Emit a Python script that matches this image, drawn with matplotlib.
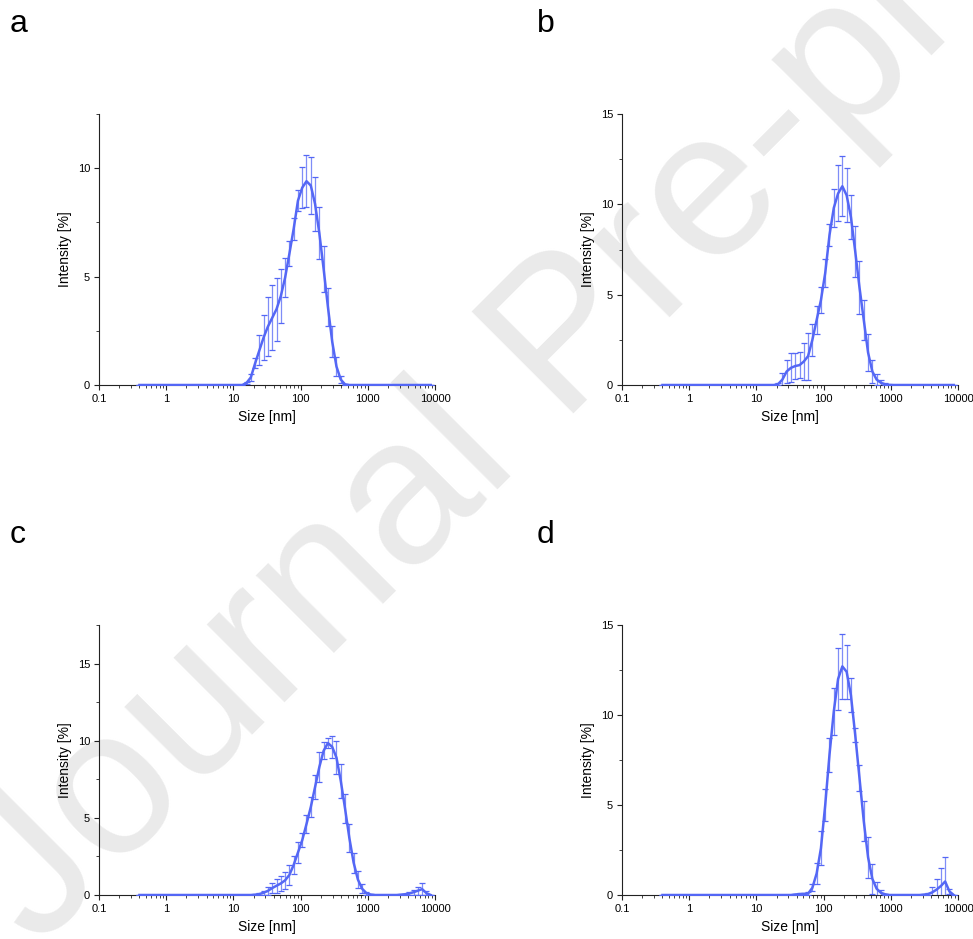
import matplotlib
matplotlib.use("Agg")
import matplotlib.pyplot as plt
from matplotlib.ticker import FixedLocator, LogLocator, MultipleLocator, NullFormatter

plt.rcParams["font.family"] = ["Liberation Sans", "DejaVu Sans"]

# DLS size classes [nm]
sizes = [0.4, 0.4632, 0.5365, 0.6213, 0.7195, 0.8332, 0.9649, 1.117, 1.294, 1.499,
         1.736, 2.01, 2.328, 2.696, 3.122, 3.615, 4.187, 4.849, 5.615, 6.503,
         7.531, 8.721, 10.1, 11.7, 13.54, 15.69, 18.17, 21.04, 24.36, 28.21,
         32.67, 37.84, 43.82, 50.75, 58.77, 68.06, 78.82, 91.28, 105.7, 122.4,
         141.8, 164.2, 190.1, 220.2, 255.0, 295.3, 342.0, 396.1, 458.7, 531.2,
         615.1, 712.4, 825.0, 955.4, 1106, 1281, 1484, 1718, 1990, 2305,
         2669, 3091, 3580, 4145, 4801, 5560, 6439, 7456, 8635]

# intensity [%] and standard deviation per panel
int_a = [0.0] * 25 + [0.1, 0.35, 1.0, 1.6, 2.2, 2.7, 3.1, 3.5, 4.1, 4.95, 6.05, 7.2,
                      8.5, 9.1, 9.4, 9.2, 8.35, 7.0, 5.35, 3.6, 2.0, 0.85, 0.25, 0.03] + [0.0] * 20
err_a = [0.0] * 25 + [0.05, 0.15, 0.23, 0.7, 1.05, 1.35, 1.5, 1.45, 1.25, 0.9, 0.58, 0.52,
                      0.48, 0.95, 1.2, 1.3, 1.25, 1.2, 1.05, 0.88, 0.7, 0.42, 0.15, 0.03] + [0.0] * 20

int_b = [0.0] * 27 + [0.05, 0.3, 0.75, 0.95, 1.05, 1.1, 1.3, 1.6, 2.5, 3.6, 4.7, 6.2, 8.3,
                      9.8, 10.6, 11.0, 10.5, 9.3, 7.4, 5.4, 3.6, 1.8, 0.75, 0.3, 0.12, 0.04,
                      0.01] + [0.0] * 15
err_b = [0.0] * 27 + [0.05, 0.35, 0.65, 0.8, 0.72, 0.7, 1.0, 1.3, 0.9, 0.75, 0.72, 0.8, 0.6,
                      1.05, 1.55, 1.65, 1.5, 1.2, 1.4, 1.45, 1.1, 1.05, 0.65, 0.3, 0.15, 0.05,
                      0.01] + [0.0] * 15

int_c = ([0.0] * 27 + [0.02, 0.06, 0.15, 0.27, 0.45, 0.6, 0.75, 0.95, 1.3, 1.95, 2.75, 3.55,
                       4.6, 5.7, 7.0, 8.3, 9.35, 9.85, 9.6, 8.9, 7.4, 5.6, 3.7, 2.1, 1.0, 0.4,
                       0.12, 0.03]
         + [0.0] * 6 + [0.02, 0.05, 0.1, 0.18, 0.28, 0.38, 0.12, 0.0])
err_c = ([0.0] * 27 + [0.02, 0.05, 0.12, 0.25, 0.35, 0.45, 0.5, 0.55, 0.65, 0.6, 0.7, 0.45,
                       0.6, 0.65, 0.8, 1.0, 0.55, 0.35, 0.7, 1.05, 1.1, 0.95, 0.9, 0.65, 0.55,
                       0.3, 0.1, 0.03]
         + [0.0] * 6 + [0.02, 0.04, 0.1, 0.15, 0.25, 0.4, 0.12, 0.0])

int_d = ([0.0] * 31 + [0.03, 0.05, 0.06, 0.08, 0.4, 1.2, 2.6, 5.0, 7.8, 10.2, 12.0, 12.7,
                       12.4, 11.1, 8.9, 6.5, 4.1, 2.1, 0.9, 0.35, 0.12, 0.04]
         + [0.0] * 8 + [0.02, 0.05, 0.15, 0.3, 0.5, 0.75, 0.2, 0.0])
err_d = ([0.0] * 31 + [0.02, 0.05, 0.06, 0.06, 0.2, 0.6, 0.95, 0.9, 0.95, 1.3, 1.7, 1.8,
                       1.5, 0.95, 0.4, 0.7, 1.1, 1.15, 0.85, 0.4, 0.15, 0.04]
         + [0.0] * 8 + [0.02, 0.05, 0.3, 0.6, 1.0, 1.35, 0.15, 0.0])

panels = [
    ("a", int_a, err_a, 12.5),
    ("b", int_b, err_b, 15),
    ("c", int_c, err_c, 17.5),
    ("d", int_d, err_d, 15),
]
x_ticks = [0.1, 1, 10, 100, 1000, 10000]
x_labels = ["0.1", "1", "10", "100", "1000", "10000"]

blue = "#5467f5"
W, H = 973, 939
fig = plt.figure(figsize=(W / 100, H / 100), dpi=100)

# watermark, behind the axes
fig.text(38 / W, 1 - 950 / H, "Journal Pre-proof", rotation=45, rotation_mode="anchor",
         ha="left", va="baseline", fontsize=150, color="#eaeaea", zorder=-1)

# axes boxes in pixels: left, top
boxes = [(99, 114), (622, 114), (99, 625), (622, 625)]
letter_pos = [(10, 32), (537, 32), (10, 543), (537, 543)]
for (letter, yv, ev, ymax), (lx, ty), (px, py) in zip(panels, boxes, letter_pos):
    by = 385 if ty == 114 else 895
    ax = fig.add_axes([lx / W, 1 - by / H, 336 / W, (by - ty) / H])
    ax.patch.set_alpha(0)
    ax.errorbar(sizes, yv, yerr=ev, color=blue, lw=1.8, elinewidth=0.9,
                ecolor=blue, capsize=2.2, capthick=0.9, zorder=3)
    for coll in ax.collections:
        coll.set_alpha(0.75)
    ax.set_xscale("log")
    ax.set_xlim(0.1, 10000)
    ax.set_ylim(0, ymax)
    ax.xaxis.set_major_locator(FixedLocator(x_ticks))
    ax.set_xticklabels(x_labels)
    ax.xaxis.set_minor_locator(LogLocator(base=10, subs=range(2, 10), numticks=20))
    ax.xaxis.set_minor_formatter(NullFormatter())
    ax.yaxis.set_major_locator(MultipleLocator(5))
    ax.yaxis.set_minor_locator(MultipleLocator(2.5))
    for s in ("top", "right"):
        ax.spines[s].set_visible(False)
    for s in ("left", "bottom"):
        ax.spines[s].set_linewidth(0.8)
        ax.spines[s].set_color("#222222")
    ax.tick_params(which="major", direction="out", length=3.5, width=0.8,
                   labelsize=8, pad=3, color="#222222")
    ax.tick_params(which="minor", direction="out", length=2, width=0.6, color="#222222")
    ax.set_xlabel("Size [nm]", fontsize=10, labelpad=4)
    ax.set_ylabel("Intensity [%]", fontsize=10, labelpad=4)
    fig.text(px / W, 1 - py / H, letter, fontsize=23, ha="left", va="baseline")

fig.savefig("out.png", dpi=100)
